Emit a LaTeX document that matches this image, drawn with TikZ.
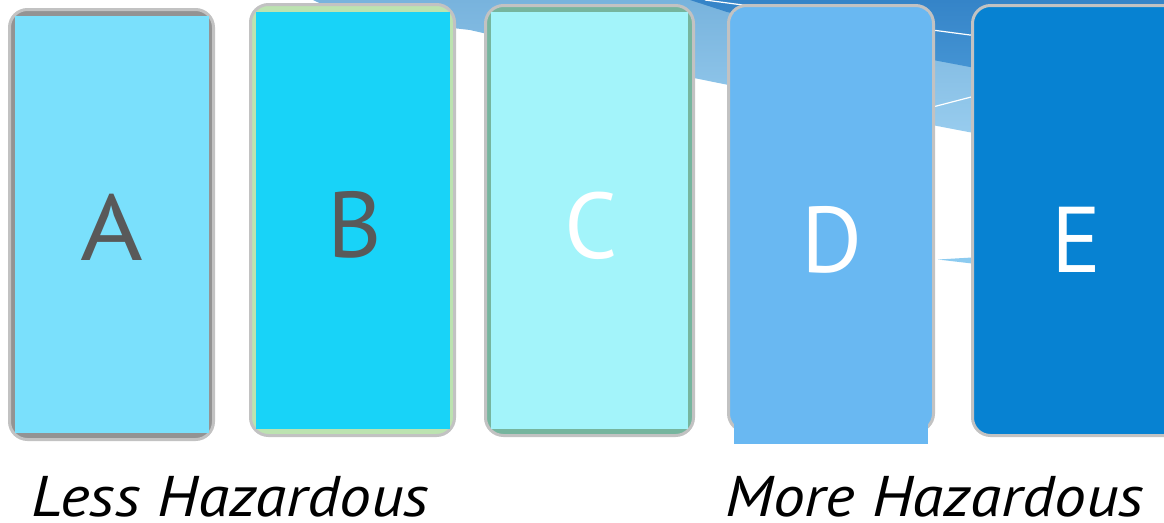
\documentclass[tikz,border=0pt]{standalone}
\usepackage{fontspec}
\setmainfont{PT Sans}
\definecolor{bordergray}{HTML}{C2C2C2}
\definecolor{frameA}{HTML}{939393}
\definecolor{fillA}{HTML}{7AE0FC}
\definecolor{frameB}{HTML}{BCE3B0}
\definecolor{fillB}{HTML}{18D3F8}
\definecolor{frameC}{HTML}{76B59E}
\definecolor{fillC}{HTML}{A3F4FA}
\definecolor{fillD}{HTML}{69B8F2}
\definecolor{fillE}{HTML}{0782D2}
\definecolor{lettergray}{HTML}{595959}
\definecolor{bandmid}{HTML}{78B3DD}
\definecolor{bandlight}{HTML}{9FD2F2}
\definecolor{banddark}{HTML}{3584C8}
\definecolor{banddark2}{HTML}{4C9CD9}
\definecolor{tipblue}{HTML}{8CCBF0}
\begin{document}
\begin{tikzpicture}[x=0.75pt,y=-0.75pt,
  outerbox/.style={draw=bordergray, line width=2.25pt, rounded corners=13.5pt},
  letter/.style={font=\fontsize{70}{70}\selectfont, inner sep=0pt, anchor=base},
  hazlabel/.style={font=\fontsize{43}{43}\selectfont\itshape, inner sep=0pt, anchor=base west, text=black, xscale=1.11}]
\useasboundingbox (0,0) rectangle (1164,522);
\fill[white] (0,0) rectangle (1164,522);
% background band
\shade[top color=bandmid, bottom color=bandlight]
  (313,0) .. controls (340,14) and (400,22) .. (470,30)
  .. controls (600,60) and (800,100) .. (1000,138) -- (1164,165) -- (1164,0) -- cycle;
\shade[top color=banddark, bottom color=banddark2]
  (690,0) -- (727,12) -- (933,60) -- (970,67) -- (1164,105) -- (1164,0) -- cycle;
\draw[white, line width=0.9pt] (705,0) -- (970,35) -- (1164,61);
\draw[white, line width=0.9pt] (925,109) -- (975,96);
\fill[tipblue] (938,259.5) -- (972,257.5) -- (972,263.5) -- cycle;
% box A
\draw[outerbox, fill=frameA] (9.5,9.5) rectangle (213.5,439.5);
\fill[fillA] (15,16) rectangle (209,433);
% box B
\draw[outerbox, fill=frameB] (250.5,4.5) rectangle (454.5,435.5);
\fill[fillB] (256,12) rectangle (450,429);
% box C
\draw[outerbox, fill=frameC] (485.5,5.5) rectangle (693.5,435.5);
\fill[fillC] (491,12) rectangle (688,429);
% box D
\draw[outerbox, fill=fillD] (728.5,5.5) rectangle (933.5,431.5);
\fill[fillD] (734,12) rectangle (928,444);
% box E
\draw[outerbox, fill=fillE] (972.5,5.5) rectangle (1190,435.5);
% letters
\node[letter, text=lettergray, xscale=1.15] (la) at (112,260) {A};
\node[letter, text=lettergray] (lb) at (355,257) {B};
\node[letter, text=white] (lc) at (591,258) {C};
\node[letter, text=white] (ld) at (832,272) {D};
\node[letter, text=white] (le) at (1077,272) {E};
% labels
\node[hazlabel] (less) at (31,516) {Less Hazardous};
\node[hazlabel] (more) at (725,516) {More Hazardous};
\end{tikzpicture}
\end{document}
